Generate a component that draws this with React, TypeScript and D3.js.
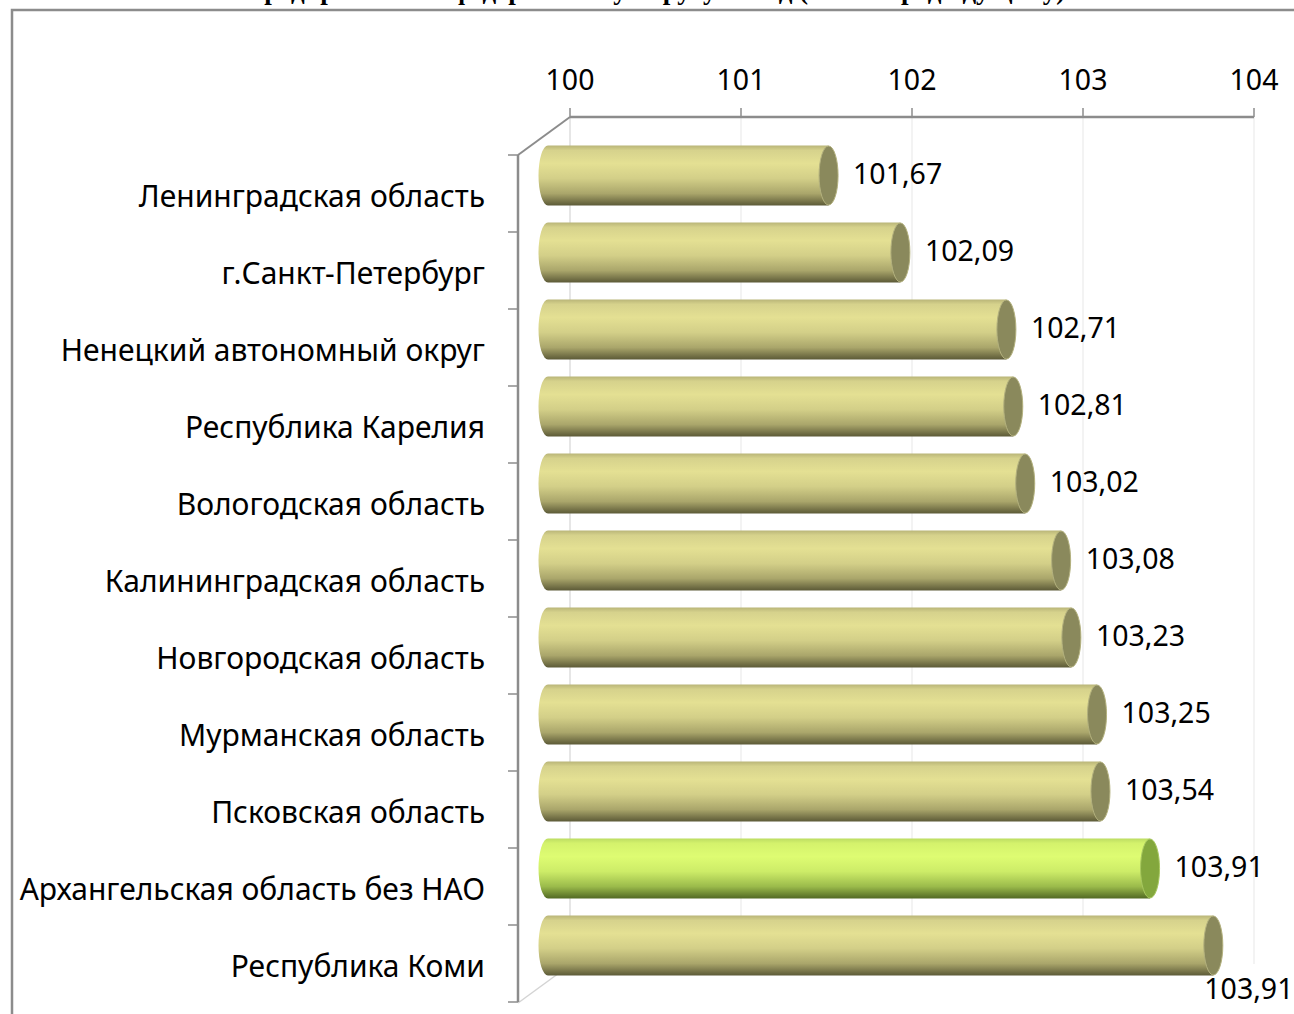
import React from 'react';
import * as d3 from 'd3';

// регионы сверху вниз
const regions = [
  'Ленинградская область',
  'г.Санкт-Петербург',
  'Ненецкий автономный округ',
  'Республика Карелия',
  'Вологодская область',
  'Калининградская область',
  'Новгородская область',
  'Мурманская область',
  'Псковская область',
  'Архангельская область без НАО',
  'Республика Коми',
];

// длина цилиндров, как на рисунке
const barValues = [101.67, 102.09, 102.71, 102.75, 102.82, 103.03, 103.09, 103.24, 103.26, 103.55, 103.92];

// подписи данных
const valueLabels = ['101,67', '102,09', '102,71', '102,81', '103,02', '103,08', '103,23', '103,25', '103,54', '103,91', '103,91'];

const highlighted = 'Архангельская область без НАО';

const xTicks = [100, 101, 102, 103, 104];

const title = 'предприятий по федеральному округу за год (в % к предыдущему)';

const FONT = '"Noto Sans", "Open Sans", sans-serif';

export default function App() {
  const W = 1294;
  const H = 1014;
  const step = 77;
  const top = 155;
  const depthX = 27;
  const depthY = 18;

  const xBack = d3.scaleLinear().domain([100, 104]).range([570, 1254]);
  const xFront = d3.scaleLinear().domain([100, 104]).range([570 - depthX, 1254 - depthX]);

  const y = d3.scaleBand()
    .domain(regions)
    .range([top, top + step * regions.length])
    .paddingInner(0);

  const barH = 60;
  const rx = 9.5;
  const axisColor = '#8c8c8c';
  const wallBottom = 964;

  return (
    <svg width={W} height={H} style={{ position: 'absolute', left: 0, top: 0, background: '#fff' }}>
      <defs>
        <linearGradient id="olive" x1="0" y1="0" x2="0" y2="1">
          <stop offset="0" stopColor="#b9b578" />
          <stop offset="0.08" stopColor="#d6d28c" />
          <stop offset="0.3" stopColor="#e4e093" />
          <stop offset="0.55" stopColor="#d3cf88" />
          <stop offset="0.8" stopColor="#aaa66b" />
          <stop offset="1" stopColor="#5c5a37" />
        </linearGradient>
        <linearGradient id="green" x1="0" y1="0" x2="0" y2="1">
          <stop offset="0" stopColor="#bcdc62" />
          <stop offset="0.08" stopColor="#d4f26c" />
          <stop offset="0.3" stopColor="#defc72" />
          <stop offset="0.55" stopColor="#cdec68" />
          <stop offset="0.8" stopColor="#9bbb4b" />
          <stop offset="1" stopColor="#526924" />
        </linearGradient>
      </defs>

      {/* заголовок, обрезан верхним краем */}
      <text x={657} y={-1} textAnchor="middle" fontFamily='"Liberation Serif", "DejaVu Serif", serif'
        fontWeight="bold" fontSize={27} fill="#000">{title}</text>

      {/* рамка */}
      <rect x={12} y={10} width={1310} height={1030} fill="none" stroke={axisColor} strokeWidth={2.5} />

      {/* задняя стенка: сетка */}
      {xTicks.map((t, i) => (
        <line key={'g' + t} x1={xBack(t)} x2={xBack(t)} y1={117} y2={wallBottom}
          stroke={i === 0 ? '#dedede' : '#efefef'} strokeWidth={1.5} />
      ))}
      {/* пол */}
      <line x1={518} y1={1003} x2={570} y2={wallBottom + 1} stroke="#d4d4d4" strokeWidth={1.5} />

      {/* верхняя ось */}
      <line x1={xBack(100)} x2={xBack(104)} y1={117} y2={117} stroke={axisColor} strokeWidth={2.5} />
      {xTicks.map(t => (
        <g key={'t' + t}>
          <line x1={xBack(t)} x2={xBack(t)} y1={108} y2={117} stroke={axisColor} strokeWidth={1.5} />
          <text x={xBack(t)} y={80} dy="0.35em" textAnchor="middle" fontFamily={FONT} fontSize={28.5} fill="#000">{t}</text>
        </g>
      ))}
      <line x1={518} y1={155} x2={570} y2={117} stroke={axisColor} strokeWidth={2} />

      {/* левая ось */}
      <line x1={518} x2={518} y1={top} y2={top + step * regions.length} stroke={axisColor} strokeWidth={2.5} />
      {d3.range(regions.length + 1).map(i => (
        <line key={'lt' + i} x1={508} x2={518} y1={top + step * i} y2={top + step * i} stroke={axisColor} strokeWidth={1.5} />
      ))}
      {regions.map(r => (
        <text key={'c' + r} x={485} y={(y(r) ?? 0) + y.bandwidth() / 2 + 3} dy="0.35em" textAnchor="end"
          fontFamily={FONT} fontSize={30} fill="#000">{r}</text>
      ))}

      {/* цилиндры */}
      {regions.map((r, i) => {
        const cy = (y(r) ?? 0) + y.bandwidth() / 2 - depthY;
        const x0 = xFront(100) + 5;
        const x1 = xFront(barValues[i]);
        const t = cy - barH / 2;
        const b = cy + barH / 2;
        const isHl = r === highlighted;
        const last = i === regions.length - 1;
        return (
          <g key={'b' + r}>
            <path
              d={`M${x0},${t} L${x1},${t} L${x1},${b} L${x0},${b} A${rx},${barH / 2} 0 0 1 ${x0},${t} Z`}
              fill={`url(#${isHl ? 'green' : 'olive'})`}
            />
            <ellipse cx={x1} cy={cy} rx={rx} ry={barH / 2 - 0.5} fill={isHl ? '#83a73d' : '#8a895c'}
              stroke={isHl ? '#a8c860' : '#b3b17e'} strokeWidth={1} />
            <text
              x={last ? x1 - 9 : x1 + rx + 15}
              y={last ? b + 14 : cy - 1}
              dy="0.35em"
              fontFamily={FONT} fontSize={28.5} fill="#000">{valueLabels[i]}</text>
          </g>
        );
      })}
    </svg>
  );
}
